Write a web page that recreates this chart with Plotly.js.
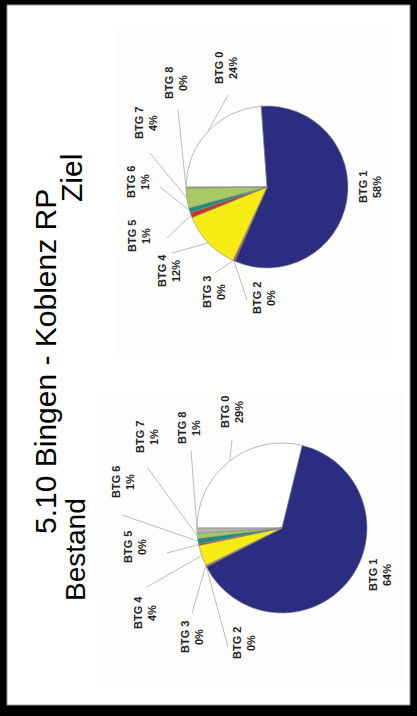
<!DOCTYPE html>
<html>
<head>
<meta charset="utf-8">
<script src="https://cdn.plot.ly/plotly-3.0.1.min.js"></script>
<style>
html, body { margin: 0; padding: 0; background: #000; width: 417px; height: 716px; overflow: hidden; }
#plot { position: absolute; left: 0; top: 0; width: 716px; height: 417px;
        transform-origin: 0 0; transform: translateY(716px) rotate(-90deg); }
</style>
</head>
<body>
<div id="plot"></div>
<script>
// ---- data ----
const categories = ["BTG 0", "BTG 1", "BTG 2", "BTG 3", "BTG 4", "BTG 5", "BTG 6", "BTG 7", "BTG 8"];
const bestandValues = [29, 64, 0.2, 0.1, 4, 0.3, 1, 1, 1];
const zielValues    = [24, 58, 0.3, 0.1, 12, 1, 1, 4, 0.2];
const sliceColors = ["#ffffff", "#2b2e80", "#a3282a", "#e07020", "#f6ec14", "#c8321e", "#1d8c78", "#a6c964", "#b4b4b4"];
const mainTitle = "5.10 Bingen - Koblenz RP";
const panelTitles = ["Bestand", "Ziel"];

// ---- layout geometry (unrotated frame 716 x 417) ----
const W = 716, H = 417;
const px = X => X / W;
const py = Y => 1 - Y / H;
const pieGeom = [{cx: 188, cy: 282, r: 85}, {cx: 529, cy: 267, r: 81}];
const labelPos = [
  [[304,232],[141,380],[73,244],[79,192],[103,145],[169,135],[234,123],[279,147],[288,189]],
  [[648,226],[529,370],[418,264],[424,214],[445,169],[480,139],[534,138],[593,146],[633,176]]
];
const leaderStart = [
  [[276,232], null, [69,228],[103,192],[129,147],[163,167],[201,122],[249,147],[266,191]],
  [[621,228], null, [416,247],[443,215],[463,172],[478,167],[529,160],[563,150],[606,178]]
];

const series = [bestandValues, zielValues];
const traces = [];
const annotations = [];
const shapes = [
  {type: "rect", xref: "paper", yref: "paper", x0: px(11), x1: px(711), y0: py(410), y1: py(7),
   fillcolor: "#ffffff", line: {color: "#9a9a9a", width: 1}, layer: "below"},
  {type: "rect", xref: "paper", yref: "paper", x0: px(29), x1: px(324), y0: py(403), y1: py(97),
   fillcolor: "#fdfdfd", line: {width: 0}, layer: "below"},
  {type: "rect", xref: "paper", yref: "paper", x0: px(361), x1: px(688), y0: py(390), y1: py(115),
   fillcolor: "#fdfdfd", line: {width: 0}, layer: "below"}
];

series.forEach((vals, k) => {
  const g = pieGeom[k];
  traces.push({
    type: "pie", labels: categories, values: vals, sort: false, direction: "clockwise", rotation: 0,
    marker: {colors: sliceColors, line: {color: "#8a8a8a", width: 0.6}},
    textinfo: "none", hoverinfo: "none", showlegend: false,
    domain: {x: [px(g.cx - g.r), px(g.cx + g.r)], y: [py(g.cy + g.r), py(g.cy - g.r)]}
  });
  const total = vals.reduce((a, b) => a + b, 0);
  let cum = 0;
  vals.forEach((v, i) => {
    const f = v / total;
    const a = (cum + f / 2) * 2 * Math.PI;
    cum += f;
    const ex = g.cx + g.r * Math.sin(a), ey = g.cy - g.r * Math.cos(a);
    const [lx, ly] = labelPos[k][i];
    const pct = Math.round(f * 100) + "%";
    const font = {family: "Liberation Sans, Arial, sans-serif", size: 11, color: "#222222", weight: "bold"};
    annotations.push({xref: "paper", yref: "paper", x: px(lx), y: py(ly), text: "<b>" + categories[i] + "</b>",
      showarrow: false, xanchor: "center", yanchor: "middle", yshift: 7, font: font});
    annotations.push({xref: "paper", yref: "paper", x: px(lx), y: py(ly), text: "<b>" + pct + "</b>",
      showarrow: false, xanchor: "center", yanchor: "middle", yshift: -7, font: font});
    const s = leaderStart[k][i];
    if (s) {
      shapes.push({type: "line", xref: "paper", yref: "paper", x0: px(s[0]), y0: py(s[1]), x1: px(ex), y1: py(ey),
        line: {color: "#bdbdbd", width: 1}});
    }
  });
});

annotations.push({xref: "paper", yref: "paper", x: px(354), y: py(46), text: mainTitle, showarrow: false,
  xanchor: "center", yanchor: "middle", font: {family: "Liberation Sans, Arial, sans-serif", size: 30, color: "#000"}});
annotations.push({xref: "paper", yref: "paper", x: px(166), y: py(75), text: panelTitles[0], showarrow: false,
  xanchor: "center", yanchor: "middle", font: {family: "Liberation Sans, Arial, sans-serif", size: 28, color: "#000"}});
annotations.push({xref: "paper", yref: "paper", x: px(538), y: py(71), text: panelTitles[1], showarrow: false,
  xanchor: "center", yanchor: "middle", font: {family: "Liberation Sans, Arial, sans-serif", size: 30, color: "#000"}});

const layout = {
  width: W, height: H, margin: {l: 0, r: 0, t: 0, b: 0},
  paper_bgcolor: "#000000", showlegend: false,
  annotations: annotations, shapes: shapes
};
Plotly.newPlot("plot", traces, layout, {staticPlot: true, displayModeBar: false});
</script>
</body>
</html>
